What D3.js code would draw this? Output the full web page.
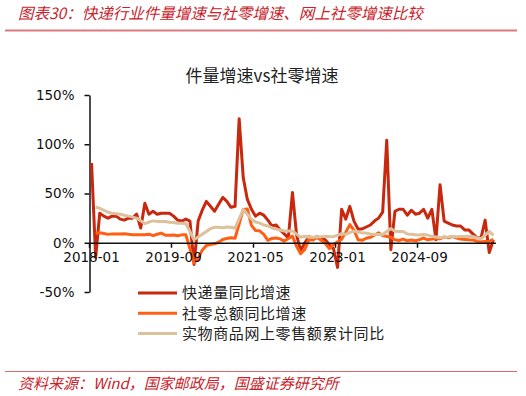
<!DOCTYPE html>
<html lang="zh">
<head>
    <meta charset="utf-8">
    <script src="https://d3js.org/d3.v7.min.js"></script>
    <style>
        body { margin: 0; background: #fff; }
        svg text { font-family: "Noto Sans CJK SC", sans-serif; }
    </style>
</head>
<body>
    <div id="chart"></div>
    <script>
        // 快递量同比增速 (by year, Jan..Dec)
        const express = [
            81, -15, 30, 27, 25, 27, 27, 24, 23, 25, 25, 29,   // 2018
            15, 40, 29, 32, 29, 30, 30, 30, 27, 23, 22, 24,    // 2019
            22, -22, 22, 33, 42, 37, 32, 39, 46, 42, 36, 37,   // 2020
            126, 66, 44, 34, 27, 30, 28, 23, 17, 18, 13, 9,    // 2021
            5, 51, 8, -8, 0, 6, 5, 6, 5, 3, -2, -6,            // 2022
            -25, 34, 24, 37, 22, 14, 14, 16, 18, 22, 25, 31,   // 2023
            104, -7, 32, 34, 34, 28, 33, 29, 30, 34, 25, 34,   // 2024
            3, 59, 22, 20, 18, 17, 17, 13, 13, 9, 5, 5,        // 2025
            23, -10, 3                                          // 2026
        ];
        // 社零总额同比增速 (Jan merged into Feb)
        const retail = [
            null, 9.7, 10.1, 9.4, 8.5, 9.0, 8.8, 9.0, 9.2, 8.6, 8.1, 8.2,
            null, 8.2, 8.7, 7.2, 8.6, 9.8, 7.6, 7.5, 7.8, 7.2, 8.0, 8.0,
            null, -20.5, -15.8, -7.5, -2.8, -1.8, -1.1, 0.5, 3.3, 4.3, 5.0, 4.6,
            null, 33.8, 34.2, 17.7, 12.4, 12.1, 8.5, 2.5, 4.4, 4.9, 3.9, 1.7,
            null, 6.7, -3.5, -11.1, -6.7, 3.1, 2.7, 5.4, 2.5, -0.5, -5.9, -1.8,
            null, 3.5, 10.6, 18.4, 12.7, 3.1, 2.5, 4.6, 5.5, 7.6, 10.1, 7.4,
            null, 5.5, 3.1, 2.3, 3.7, 2.0, 2.7, 2.1, 3.2, 4.8, 3.0, 3.7,
            null, 4.0, 5.9, 5.1, 6.4, 4.8, 3.7, 3.4, 3.0, 2.9, 1.3, 0.9,
            null, 1.5, 3.5
        ];
        // 实物商品网上零售额累计同比
        const online = [
            null, 36, 35, 33, 31, 30, 29.5, 29, 28, 27, 26, 25,
            null, 19.5, 21.0, 22.2, 21.7, 21.6, 21.6, 20.8, 20.5, 19.8, 19.7, 19.5,
            null, 3.0, 5.9, 8.6, 11.5, 14.3, 15.7, 15.8, 15.3, 16.0, 15.7, 14.8,
            null, 33.7, 29, 24, 21, 20, 18, 17, 15, 14, 13, 12,
            null, 12, 8.8, 5.6, 6.6, 5.6, 5.7, 5.8, 6.1, 6.7, 6.4, 6.2,
            null, 9.1, 8.6, 10.4, 11.8, 10.8, 10.0, 9.8, 8.9, 8.4, 8.5, 8.4,
            null, 14.4, 11.6, 11.5, 11.5, 8.8, 8.7, 8.1, 7.9, 8.3, 7.8, 6.5,
            null, 5.0, 5.7, 5.8, 6.3, 6.0, 6.3, 6.4, 6.5, 6.3, 5, 4,
            null, 11.5, 7.5
        ];
        const tickLabels = ["2018-01", "2019-09", "2021-05", "2023-01", "2024-09"];
        const yTicks = [-50, 0, 50, 100, 150];
        const seriesNames = ["快递量同比增速", "社零总额同比增速", "实物商品网上零售额累计同比"];
        const seriesColors = ["#C8280E", "#FF5F14", "#DCC19C"];

        const fmt = d3.timeFormat("%Y-%m");
        const months = d3.timeMonths(new Date(2018, 0, 1), new Date(2018, 0 + express.length, 1)).map(fmt);

        const W = 526, H = 396;
        const svg = d3.select("#chart").append("svg")
            .attr("width", W).attr("height", H);

        const red = "#C8232C";

        // header
        svg.append("text")
            .attr("x", 18).attr("y", 19)
            .attr("fill", red)
            .style("font-size", "15.5px")
            .style("font-style", "italic")
            .text("图表30：快递行业件量增速与社零增速、网上社零增速比较");
        svg.append("line")
            .attr("x1", 5).attr("x2", 517).attr("y1", 30.5).attr("y2", 30.5)
            .attr("stroke", "#D97A7E").attr("stroke-width", 2);

        // chart title
        svg.append("text")
            .attr("x", 262).attr("y", 82)
            .attr("text-anchor", "middle")
            .attr("fill", "#222")
            .style("font-size", "17px")
            .text("件量增速vs社零增速");

        const x = d3.scaleBand().domain(months).range([89.5, 495.4]).padding(0);
        const y = d3.scaleLinear().domain([-50, 150]).range([292, 95]);
        const cx = m => x(m) + x.bandwidth() / 2;

        // y axis
        const yAxis = svg.append("g")
            .attr("transform", "translate(89.5,0)")
            .call(d3.axisLeft(y).tickValues(yTicks).tickFormat(d => d + "%").tickSize(5).tickSizeOuter(0));
        yAxis.selectAll("text")
            .style("font-family", "'DejaVu Sans', Verdana, sans-serif")
            .style("font-size", "13.5px")
            .attr("fill", "#111")
            .attr("x", -15);
        yAxis.selectAll("line, path").attr("stroke", "#111").attr("stroke-width", 1.5);

        // lines
        const line = d3.line()
            .x(d => cx(d.m))
            .y(d => y(d.v));

        [express, retail, online].forEach((vals, k) => {
            const pts = months.map((m, i) => ({ m: m, v: vals[i] })).filter(d => d.v !== null && d.v !== undefined);
            svg.append("path")
                .datum(pts)
                .attr("fill", "none")
                .attr("stroke", seriesColors[k])
                .attr("stroke-width", 3)
                .attr("stroke-linejoin", "round")
                .attr("d", line);
        });

        // x axis at 0%
        const xAxis = svg.append("g")
            .attr("transform", `translate(0,${y(0)})`)
            .call(d3.axisBottom(x).tickValues(tickLabels).tickSize(5).tickSizeOuter(0));
        xAxis.selectAll(".tick line").attr("transform", `translate(${-x.bandwidth() / 2},0)`);
        xAxis.selectAll("line, path").attr("stroke", "#111").attr("stroke-width", 1.5);
        xAxis.selectAll("text")
            .style("font-family", "'DejaVu Sans', Verdana, sans-serif")
            .style("font-size", "13.5px")
            .attr("fill", "#111")
            .attr("y", 10);

        // legend
        const legend = svg.append("g");
        seriesNames.forEach((name, k) => {
            const ly = 293 + k * 20.3;
            legend.append("line")
                .attr("x1", 138).attr("x2", 177).attr("y1", ly).attr("y2", ly)
                .attr("stroke", seriesColors[k]).attr("stroke-width", 3);
            legend.append("text")
                .attr("x", 182).attr("y", ly)
                .attr("dy", "0.36em")
                .attr("fill", "#222")
                .style("font-size", "15px")
                .style("letter-spacing", "0.6px")
                .text(name);
        });

        // footer
        svg.append("line")
            .attr("x1", 5).attr("x2", 517).attr("y1", 371.5).attr("y2", 371.5)
            .attr("stroke", "#E0686C").attr("stroke-width", 1);
        svg.append("text")
            .attr("x", 18).attr("y", 389)
            .attr("fill", red)
            .style("font-size", "15px")
            .style("font-style", "italic")
            .text("资料来源：Wind，国家邮政局，国盛证券研究所");
    </script>
</body>
</html>
